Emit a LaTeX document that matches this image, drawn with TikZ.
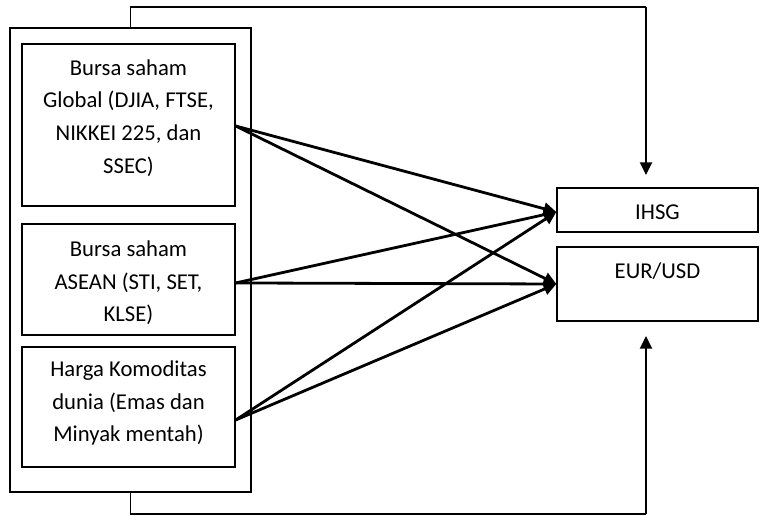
\documentclass[tikz,border=0pt]{standalone}
\usepackage{fontspec}
\setmainfont{Carlito}
\usetikzlibrary{arrows.meta,fit}
\begin{document}
\begin{tikzpicture}[x=0.75pt,y=-0.75pt,
  box/.style={draw, line width=1pt, inner sep=0pt},
  txt/.style={align=center, font=\fontsize{17}{24.5}\selectfont, inner sep=0pt},
  conn/.style={line width=1.3pt},
  arr/.style={line width=2.1pt, -{Triangle[length=9.5pt,width=9pt]}},
  varr/.style={line width=1.7pt, -{Triangle[length=9.5pt,width=9pt]}}]
\useasboundingbox (0,0) rectangle (760,516);
\node[box, fit={(10,28)(251,492)}] (outer) {};
\node[box, fit={(22,44)(235,206)}] (g) {};
\node[box, fit={(22,224)(235,335)}] (a) {};
\node[box, fit={(22,347)(235,467)}] (h) {};
\node[box, fit={(557,188)(758,232)}] (ihsg) {};
\node[box, fit={(557,247)(758,321)}] (eur) {};
\node[txt] (gt) at (128.5,118) {Bursa saham\\Global (DJIA, FTSE,\\NIKKEI 225, dan\\SSEC)};
\node[txt] (at) at (128.5,283) {Bursa saham\\ASEAN (STI, SET,\\KLSE)};
\node[txt] (ht) at (128.5,403) {Harga Komoditas\\dunia (Emas dan\\Minyak mentah)};
\node[txt] (it) at (657.5,212) {IHSG};
\node[txt] (et) at (657.5,271) {EUR/USD};
\coordinate (topc) at (646,7);
\coordinate (ta) at (646,175);
\coordinate (botc) at (646,514);
\coordinate (ba) at (646,336);
\draw[conn] (outer.north) |- (topc);
\draw[varr] (topc) -- (ta);
\draw[conn] (outer.south) |- (botc);
\draw[varr] (botc) -- (ba);
\coordinate (gs) at ([yshift=-0.75pt]g.east);
\coordinate (as) at ([yshift=-2.6pt]a.east);
\coordinate (hs) at ([yshift=-9.75pt]h.east);
\coordinate (it2) at ([yshift=-1.5pt]ihsg.west);
\draw[arr] (gs) -- (it2);
\draw[arr] (gs) -- (eur.west);
\draw[arr] (as) -- (it2);
\draw[arr] (as) -- (eur.west);
\draw[arr] (hs) -- (it2);
\draw[arr] (hs) -- (eur.west);
\end{tikzpicture}
\end{document}
